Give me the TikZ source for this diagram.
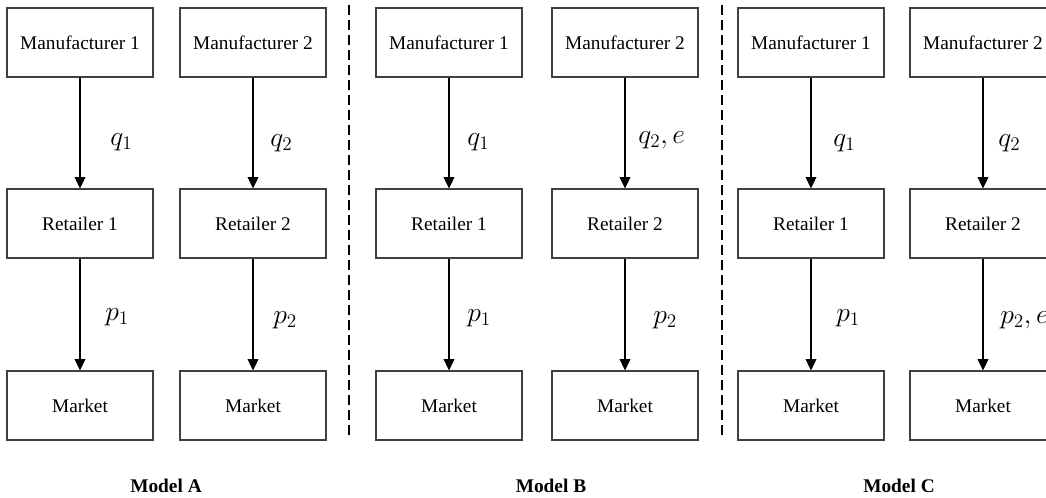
\documentclass[tikz,border=0pt]{standalone}
\usepackage{fontspec}
\setmainfont{Liberation Serif}
\usetikzlibrary{arrows.meta}

\begin{document}
\begin{tikzpicture}[x=0.75pt,y=-0.75pt,
    firm/.style={draw=black!75,line width=0.8pt,
        minimum width=109.5pt,minimum height=51.75pt,inner sep=0pt,
        font={\fontsize{14.5}{17}\selectfont}},
    flow/.style={-{Triangle[length=8.5pt,width=8pt]},line width=1pt},
    var/.style={anchor=west,inner sep=0pt,
        font={\fontsize{20.74}{25}\selectfont}},
    model/.style={font={\bfseries\fontsize{14.5}{17}\selectfont}},
    divider/.style={dash pattern=on 7.5pt off 3.75pt,line width=1pt},
    ]
    \clip (0,0) rectangle (1046,497);

    % Supply chains: manufacturer -> retailer -> market
    \foreach \m/\xa/\xb in {A/80/253, B/449/625, C/811/983}{
        \node[firm] (\m man1) at (\xa,42.5) {Manufacturer 1};
        \node[firm] (\m man2) at (\xb,42.5) {Manufacturer 2};
        \node[firm] (\m ret1) at (\xa,223.5) {Retailer 1};
        \node[firm] (\m ret2) at (\xb,223.5) {Retailer 2};
        \node[firm] (\m mkt1) at (\xa,405.5) {Market};
        \node[firm] (\m mkt2) at (\xb,405.5) {Market};

        \draw[flow] (\m man1) -- (\m ret1);
        \draw[flow] (\m man2) -- (\m ret2);
        \draw[flow] (\m ret1) -- (\m mkt1);
        \draw[flow] (\m ret2) -- (\m mkt2);
    }

    % Decision variables
    \node[var] (Aq1) at (110,142) {$q_1$};
    \node[var] (Aq2) at (270,143) {$q_2$};
    \node[var] (Ap1) at (105,317) {$p_1$};
    \node[var] (Ap2) at (273,320) {$p_2$};

    \node[var] (Bq1) at (467,142) {$q_1$};
    \node[var] (Bq2) at (638,140) {$q_2,e$};
    \node[var] (Bp1) at (467,318) {$p_1$};
    \node[var] (Bp2) at (653,320) {$p_2$};

    \node[var] (Cq1) at (833,143) {$q_1$};
    \node[var] (Cq2) at (998,143) {$q_2$};
    \node[var] (Cp1) at (836,318) {$p_1$};
    \node[var] (Cp2) at (1000,320) {$p_2,e$};

    % Dashed separators
    \coordinate (sepAtop) at (349,5);
    \coordinate (sepAbot) at (349,437);
    \coordinate (sepBtop) at (722,5);
    \coordinate (sepBbot) at (722,437);
    \draw[divider] (sepAtop) -- (sepAbot);
    \draw[divider] (sepBtop) -- (sepBbot);

    % Model names
    \node[model] (nameA) at (166,486) {Model A};
    \node[model] (nameB) at (551,486) {Model B};
    \node[model] (nameC) at (899,486) {Model C};
\end{tikzpicture}
\end{document}
